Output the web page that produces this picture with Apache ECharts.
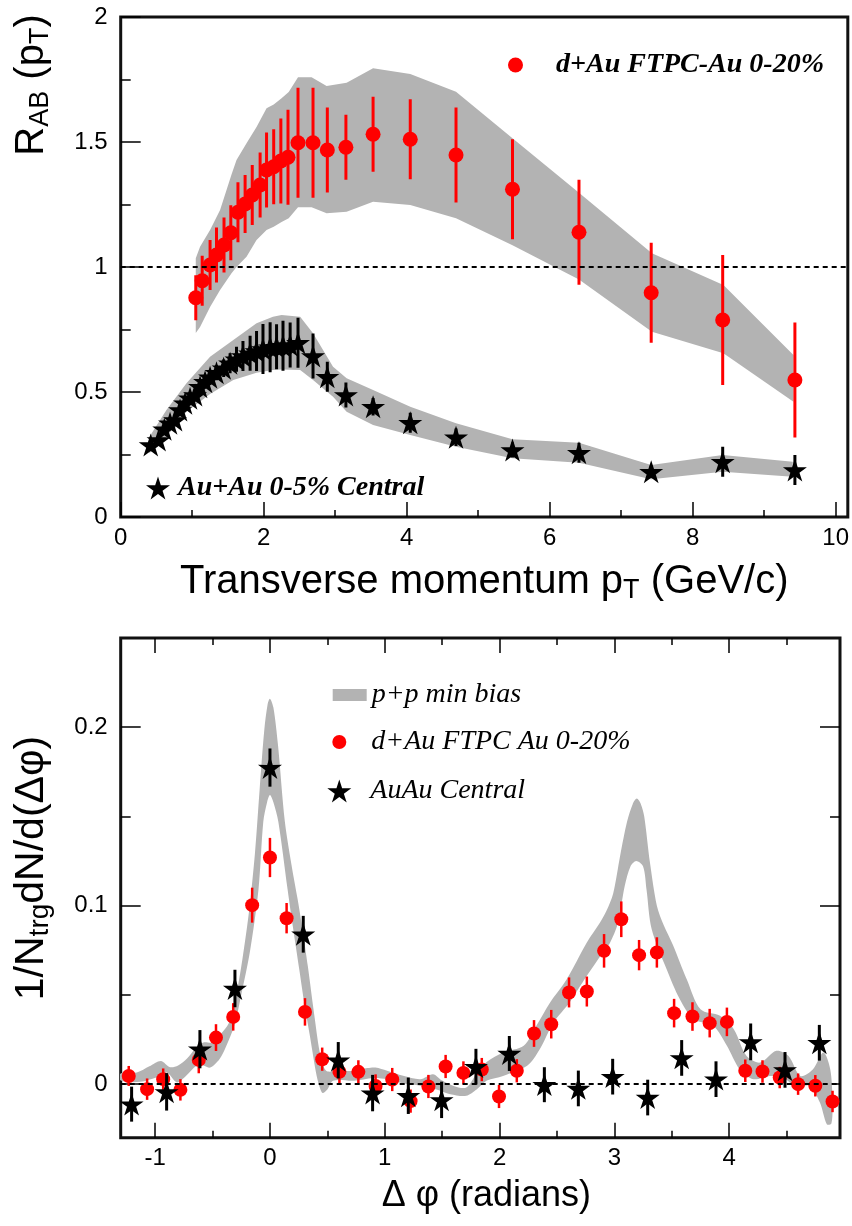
<!DOCTYPE html>
<html><head><meta charset="utf-8">
<script src="https://cdn.jsdelivr.net/npm/echarts@6/dist/echarts.min.js"></script>
<style>html,body{margin:0;padding:0;background:#fff}#c{width:852px;height:1226px}</style>
</head><body><div id="c"></div>
<script>
// ---------- TOP PANEL DATA : R_AB vs pT ----------
const dauPt  = [1.05,1.14,1.25,1.34,1.445,1.54,1.64,1.74,1.84,1.95,2.04,2.14,2.24,2.34,2.48,2.69,2.89,3.15,3.53,4.05,4.69,5.48,6.41,7.42,8.42,9.43];
const dauR   = [0.877,0.945,1.008,1.048,1.088,1.137,1.219,1.252,1.288,1.328,1.388,1.401,1.424,1.439,1.497,1.497,1.468,1.479,1.531,1.511,1.448,1.311,1.139,0.897,0.788,0.548];
const dauErr = [0.09,0.10,0.10,0.11,0.11,0.11,0.12,0.116,0.12,0.13,0.15,0.15,0.17,0.19,0.22,0.22,0.17,0.13,0.15,0.16,0.19,0.20,0.21,0.20,0.26,0.23];
const dauBandPt = [1.05,1.11,1.25,1.39,1.55,1.62,1.76,1.90,2.04,2.14,2.25,2.35,2.48,2.67,2.88,3.16,3.53,4.05,4.69,5.48,6.41,7.43,8.43,9.41];
const dauBandHi = [1.035,1.081,1.148,1.228,1.37,1.428,1.495,1.56,1.635,1.65,1.675,1.70,1.759,1.759,1.724,1.737,1.795,1.772,1.701,1.515,1.297,1.055,0.928,0.648];
const dauBandLo = [0.736,0.76,0.84,0.908,0.975,1.0,1.041,1.108,1.148,1.161,1.18,1.195,1.239,1.239,1.215,1.221,1.261,1.248,1.195,1.087,0.95,0.741,0.655,0.461];

const auPt  = [0.42,0.53,0.61,0.69,0.76,0.83,0.90,0.97,1.04,1.11,1.18,1.25,1.34,1.44,1.53,1.62,1.71,1.81,1.90,1.99,2.09,2.18,2.27,2.37,2.48,2.69,2.89,3.15,3.53,4.05,4.69,5.48,6.41,7.42,8.42,9.43];
const auR   = [0.288,0.308,0.351,0.375,0.388,0.428,0.455,0.475,0.488,0.521,0.541,0.559,0.577,0.595,0.615,0.631,0.644,0.655,0.664,0.672,0.679,0.681,0.685,0.688,0.697,0.644,0.561,0.488,0.441,0.377,0.319,0.268,0.257,0.181,0.221,0.188];
const auErr = [0.01,0.01,0.012,0.012,0.014,0.015,0.016,0.018,0.02,0.022,0.025,0.028,0.03,0.035,0.04,0.05,0.06,0.07,0.08,0.10,0.10,0.09,0.10,0.09,0.10,0.09,0.06,0.05,0.035,0.04,0.035,0.03,0.04,0.025,0.06,0.06];
const auBandPt = [0.40,0.64,0.92,1.25,1.575,1.90,2.13,2.25,2.51,2.69,2.97,3.16,3.53,4.05,4.69,5.48,6.41,7.42,8.42,9.40];
const auBandHi = [0.32,0.428,0.535,0.641,0.708,0.775,0.801,0.808,0.801,0.735,0.601,0.555,0.508,0.441,0.375,0.311,0.297,0.208,0.248,0.221];
const auBandLo = [0.255,0.321,0.421,0.492,0.548,0.577,0.588,0.59,0.588,0.548,0.481,0.421,0.368,0.328,0.281,0.235,0.217,0.151,0.181,0.161];

// ---------- BOTTOM PANEL DATA : correlation vs delta phi ----------
const dauPhi    = [-1.23,-1.07,-0.93,-0.78,-0.62,-0.47,-0.32,-0.155,0.0,0.145,0.305,0.455,0.605,0.77,0.92,1.065,1.225,1.38,1.53,1.685,1.845,1.995,2.15,2.30,2.45,2.605,2.76,2.91,3.06,3.215,3.37,3.52,3.68,3.83,3.98,4.14,4.29,4.44,4.60,4.75,4.90];
const dauCorr   = [0.0046,-0.0028,0.0028,-0.0032,0.0136,0.0261,0.0377,0.1003,0.127,0.093,0.0405,0.014,0.0069,0.0069,-0.001,0.0026,-0.0095,-0.0013,0.0099,0.0063,0.0082,-0.0069,0.0075,0.0284,0.0336,0.0514,0.0519,0.0747,0.0924,0.0723,0.0738,0.0398,0.0379,0.0342,0.0349,0.0075,0.0071,0.0037,0.0,-0.0009,-0.0097];
const dauCorrErr= [0.0056,0.006,0.006,0.006,0.0075,0.0075,0.0077,0.0098,0.011,0.0085,0.0077,0.0065,0.0065,0.0065,0.0065,0.0065,0.0065,0.0065,0.0065,0.0065,0.0065,0.0065,0.0065,0.0075,0.008,0.0084,0.0084,0.0094,0.0100,0.0085,0.0085,0.008,0.008,0.008,0.008,0.0063,0.0063,0.006,0.006,0.006,0.006];
const auPhi     = [-1.205,-0.90,-0.61,-0.305,0.0,0.29,0.595,0.894,1.205,1.495,1.794,2.085,2.39,2.686,2.985,3.29,3.586,3.885,4.187,4.486,4.785];
const auCorr    = [-0.0112,-0.0043,0.0196,0.0536,0.1774,0.084,0.0134,-0.005,-0.0065,-0.0088,0.0098,0.0172,-0.0003,-0.0024,0.0042,-0.0075,0.0147,0.0028,0.0237,0.008,0.0232];
const auCorrErr = [0.0098,0.0105,0.0107,0.0105,0.0107,0.0103,0.0102,0.0102,0.0102,0.0102,0.0100,0.0098,0.0098,0.0100,0.0100,0.0100,0.0100,0.0100,0.0103,0.0100,0.0100];
const ppUpperPhi = [-1.30,-1.16,-1.05,-0.95,-0.87,-0.80,-0.72,-0.65,-0.58,-0.50,-0.43,-0.36,-0.30,-0.24,-0.18,-0.13,-0.09,-0.05,-0.02,0.00,0.03,0.07,0.13,0.19,0.24,0.28,0.33,0.39,0.44,0.49,0.60,0.73,0.85,0.92,1.02,1.16,1.31,1.42,1.50,1.60,1.71,1.80,1.89,2.03,2.21,2.32,2.44,2.585,2.76,2.875,2.93,2.99,3.05,3.11,3.16,3.195,3.23,3.26,3.31,3.37,3.43,3.51,3.63,3.75,3.92,4.04,4.15,4.27,4.41,4.515,4.62,4.73,4.82,4.88,4.90];
const ppUpper    = [0.006,0.0065,0.010,0.013,0.0095,0.0105,0.0145,0.020,0.0234,0.0234,0.028,0.034,0.048,0.070,0.098,0.130,0.165,0.198,0.213,0.216,0.211,0.190,0.147,0.122,0.104,0.088,0.066,0.037,0.016,0.0075,0.0075,0.0075,0.009,0.0093,0.0075,0.0047,0.0028,0.0056,0.002,-0.001,-0.0019,0.006,0.0125,0.0177,0.0215,0.0327,0.0458,0.0588,0.0794,0.0906,0.097,0.107,0.128,0.147,0.157,0.160,0.157,0.150,0.124,0.100,0.089,0.078,0.0588,0.042,0.0383,0.0308,0.0159,0.0121,0.0187,0.0159,0.0046,0.0084,0.0177,0.0084,-0.010];
const ppLowerPhi = [-1.30,-1.13,-0.99,-0.90,-0.81,-0.73,-0.64,-0.58,-0.52,-0.44,-0.39,-0.31,-0.25,-0.175,-0.10,-0.058,-0.025,0.00,0.03,0.073,0.154,0.20,0.255,0.30,0.348,0.407,0.44,0.46,0.50,0.55,0.73,0.90,1.02,1.16,1.31,1.45,1.57,1.71,1.80,1.89,2.03,2.24,2.35,2.47,2.61,2.76,2.90,2.96,3.03,3.09,3.14,3.19,3.25,3.28,3.325,3.455,3.57,3.69,3.86,3.98,4.09,4.21,4.355,4.47,4.59,4.70,4.79,4.85,4.89];
const ppLower    = [0.002,0.0013,0.0037,0.0065,0.001,0.0047,0.0103,0.0105,0.0093,0.014,0.020,0.033,0.050,0.074,0.109,0.147,0.158,0.162,0.158,0.147,0.109,0.088,0.0644,0.045,0.027,0.0046,-0.003,-0.005,-0.003,0.0019,0.0019,0.0035,0.0028,0.0005,-0.0009,-0.003,-0.0056,-0.0065,-0.003,0.002,0.0046,0.0103,0.0196,0.0346,0.0458,0.0607,0.0738,0.079,0.090,0.111,0.122,0.125,0.122,0.109,0.0868,0.0644,0.0476,0.0364,0.0327,0.0215,0.0084,0.0028,0.0046,0.0037,-0.0019,-0.0009,-0.0103,-0.0224,-0.022];

// ---------- TICKS ----------
const topXMajor = [0,2,4,6,8,10], topXMinor = [1,3,5,7,9];
const topYMajor = [0,0.5,1,1.5,2], topYMinor = [0.25,0.75,1.25,1.75];
const botXMajor = [-1,0,1,2,3,4], botXMinor = [-0.5,0.5,1.5,2.5,3.5,4.5];
const botYMajor = [0,0.1,0.2],    botYMinor = [0.05,0.15];

// ---------- NAMES ----------
const nDauTop = 'd+Au FTPC-Au 0-20%';
const nAuTop  = 'Au+Au 0-5% Central';
const nPP     = 'p+p min bias';
const nDauBot = 'd+Au FTPC Au 0-20%';
const nAuBot  = 'AuAu Central';

const STAR = 'path://M50 0 L61.17 34.63 L97.55 34.55 L68.07 55.87 L79.39 90.45 L50 69 L20.61 90.45 L31.93 55.87 L2.45 34.55 L38.83 34.63 Z';
const GRAY = '#b3b3b3';
const SANS = 'Liberation Sans';
const SERIF = 'Liberation Serif';

function axis(grid, pos, min, max, vals, len, withLabels) {
  return {
    type: 'value', gridIndex: grid, position: pos, min: min, max: max,
    axisLine: {show: false, onZero: false},
    splitLine: {show: false},
    axisTick: {show: true, inside: true, length: len, customValues: vals, lineStyle: {color: '#000', width: 1.5}},
    axisLabel: withLabels ? {show: true, customValues: vals, fontSize: 24, fontFamily: SANS, color: '#000', margin: pos === 'left' ? 13 : 9} : {show: false}
  };
}

function polyRender(ux, uy, lx, ly, smooth) {
  return function (params, api) {
    if (params.dataIndex !== 0) return null;
    const pts = [];
    for (let i = 0; i < ux.length; i++) pts.push(api.coord([ux[i], uy[i]]));
    for (let i = lx.length - 1; i >= 0; i--) pts.push(api.coord([lx[i], ly[i]]));
    return {type: 'polygon', shape: {points: pts, smooth: smooth}, style: {fill: GRAY}};
  };
}
function errRender(color, width) {
  return function (params, api) {
    const x = api.value(0), y = api.value(1), e = api.value(2);
    const a = api.coord([x, y - e]), b = api.coord([x, y + e]);
    return {type: 'line', shape: {x1: a[0], y1: a[1], x2: b[0], y2: b[1]}, style: {stroke: color, lineWidth: width}};
  };
}
const triple = (xs, ys, es) => xs.map((x, i) => [x, ys[i], es[i]]);
const pair = (xs, ys) => xs.map((x, i) => [x, ys[i]]);

const subRich = (big, small) => ({
  a: {fontSize: big, fontFamily: SANS, color: '#000', lineHeight: big + 4},
  s: {fontSize: small, fontFamily: SANS, color: '#000', lineHeight: small - 4, verticalAlign: 'bottom'}
});

const xAxes = [
  axis(0, 'bottom', 0, 10.17, topXMajor, 15, true),
  axis(0, 'bottom', 0, 10.17, topXMinor, 7, false),
  axis(1, 'bottom', -1.3, 4.965, botXMajor, 15, true),
  axis(1, 'bottom', -1.3, 4.965, botXMinor, 7, false),
  axis(1, 'top', -1.3, 4.965, botXMajor, 15, false),
  axis(1, 'top', -1.3, 4.965, botXMinor, 7, false)
];
Object.assign(xAxes[0], {
  name: '{a|Transverse momentum p}{s|T}{a| (GeV/c)}', nameLocation: 'middle', nameGap: 43,
  nameTextStyle: {rich: subRich(40, 27)}
});
Object.assign(xAxes[2], {
  name: 'Δ φ (radians)', nameLocation: 'middle', nameGap: 40,
  nameTextStyle: {fontSize: 36, fontFamily: SANS, color: '#000', padding: [0, 0, 0, 12]}
});
const yAxes = [
  axis(0, 'left', 0, 2, topYMajor, 20, true),
  axis(0, 'left', 0, 2, topYMinor, 10, false),
  axis(1, 'left', -0.03, 0.25, botYMajor, 20, true),
  axis(1, 'left', -0.03, 0.25, botYMinor, 10, false),
  axis(1, 'right', -0.03, 0.25, botYMajor, 20, false),
  axis(1, 'right', -0.03, 0.25, botYMinor, 10, false)
];

const legTop = {fontFamily: SERIF, fontStyle: 'italic', fontWeight: 'bold', fontSize: 28, color: '#000'};
const legBot = {fontFamily: SERIF, fontStyle: 'italic', fontWeight: 'normal', fontSize: 28, color: '#000'};
const dashStyle = {color: '#000', type: [5, 4], width: 2};

const option = {
  animation: false,
  backgroundColor: '#fff',
  grid: [
    {left: 120.7, top: 17, right: 4, bottom: 709, show: true, borderWidth: 3, borderColor: '#111', backgroundColor: 'transparent'},
    {left: 120.7, top: 638, right: 12, bottom: 88.3, show: true, borderWidth: 3, borderColor: '#111', backgroundColor: 'transparent'}
  ],
  xAxis: xAxes,
  yAxis: yAxes,
  legend: [
    {data: [nDauTop], left: 503, top: 46, itemWidth: 15, itemHeight: 15, selectedMode: false, textStyle: Object.assign({padding: [0, 0, 0, 28]}, legTop)},
    {data: [nAuTop], left: 141, top: 469, itemWidth: 24, itemHeight: 24, selectedMode: false, textStyle: Object.assign({padding: [0, 0, 0, 3]}, legTop)},
    {data: [{name: nPP, icon: 'rect'}], left: 327.7, top: 676, itemWidth: 34, itemHeight: 12, selectedMode: false, textStyle: Object.assign({padding: [0, 0, 0, 0]}, legBot)},
    {data: [nDauBot], left: 327.3, top: 723, itemWidth: 14, itemHeight: 14, selectedMode: false, textStyle: Object.assign({padding: [0, 0, 0, 20]}, legBot)},
    {data: [nAuBot], left: 322.3, top: 772, itemWidth: 24, itemHeight: 24, selectedMode: false, textStyle: Object.assign({padding: [0, 0, 0, 14]}, legBot)}
  ],
  graphic: [
    {type: 'text', x: 32, y: 85, rotation: Math.PI / 2,
     style: {text: '{a|R}{s|AB}{a| (p}{s|T}{a|)}', rich: subRich(40, 27), align: 'center', verticalAlign: 'middle'}},
    {type: 'text', x: 32, y: 868, rotation: Math.PI / 2,
     style: {text: '{a|1/N}{s|trg}{a|dN/d(Δφ)}', rich: subRich(41, 28), align: 'center', verticalAlign: 'middle'}}
  ],
  series: [
    // top panel
    {type: 'custom', name: 'dAuBand', xAxisIndex: 0, yAxisIndex: 0, data: [[0, 0]], clip: true, z: 1,
     renderItem: polyRender(dauBandPt, dauBandHi, dauBandPt, dauBandLo, 0)},
    {type: 'custom', name: 'AuAuBand', xAxisIndex: 0, yAxisIndex: 0, data: [[0, 0]], clip: true, z: 1,
     renderItem: polyRender(auBandPt, auBandHi, auBandPt, auBandLo, 0)},
    {type: 'custom', name: 'dAuErrTop', xAxisIndex: 0, yAxisIndex: 0, data: triple(dauPt, dauR, dauErr), z: 3,
     encode: {x: 0, y: 1}, renderItem: errRender('#ff0000', 3)},
    {type: 'scatter', name: nDauTop, xAxisIndex: 0, yAxisIndex: 0, data: pair(dauPt, dauR), z: 4,
     symbol: 'circle', symbolSize: 15, itemStyle: {color: '#ff0000', opacity: 1},
     markLine: {silent: true, symbol: 'none', label: {show: false}, animation: false, lineStyle: dashStyle, data: [{yAxis: 1}]}},
    {type: 'custom', name: 'AuAuErrTop', xAxisIndex: 0, yAxisIndex: 0, data: triple(auPt, auR, auErr), z: 5,
     encode: {x: 0, y: 1}, renderItem: errRender('#000', 3)},
    {type: 'scatter', name: nAuTop, xAxisIndex: 0, yAxisIndex: 0, data: pair(auPt, auR), z: 6,
     symbol: STAR, symbolSize: 24, symbolKeepAspect: true, itemStyle: {color: '#000', opacity: 1}},
    // bottom panel
    {type: 'custom', name: nPP, xAxisIndex: 2, yAxisIndex: 2, data: [[0, 0]], clip: true, z: 1,
     itemStyle: {color: GRAY}, renderItem: polyRender(ppUpperPhi, ppUpper, ppLowerPhi, ppLower, 0.3)},
    {type: 'custom', name: 'dAuErrBot', xAxisIndex: 2, yAxisIndex: 2, data: triple(dauPhi, dauCorr, dauCorrErr), z: 3,
     encode: {x: 0, y: 1}, renderItem: errRender('#ff0000', 2.5)},
    {type: 'scatter', name: nDauBot, xAxisIndex: 2, yAxisIndex: 2, data: pair(dauPhi, dauCorr), z: 4,
     symbol: 'circle', symbolSize: 14, itemStyle: {color: '#ff0000', opacity: 1},
     markLine: {silent: true, symbol: 'none', label: {show: false}, animation: false, lineStyle: dashStyle, data: [{yAxis: 0}]}},
    {type: 'custom', name: 'AuAuErrBot', xAxisIndex: 2, yAxisIndex: 2, data: triple(auPhi, auCorr, auCorrErr), z: 5,
     encode: {x: 0, y: 1}, renderItem: errRender('#000', 3)},
    {type: 'scatter', name: nAuBot, xAxisIndex: 2, yAxisIndex: 2, data: pair(auPhi, auCorr), z: 6,
     symbol: STAR, symbolSize: 24, symbolKeepAspect: true, itemStyle: {color: '#000', opacity: 1}}
  ]
};
const chart = echarts.init(document.getElementById('c'), null, {renderer: 'canvas'});
chart.setOption(option);
</script>
</body></html>
